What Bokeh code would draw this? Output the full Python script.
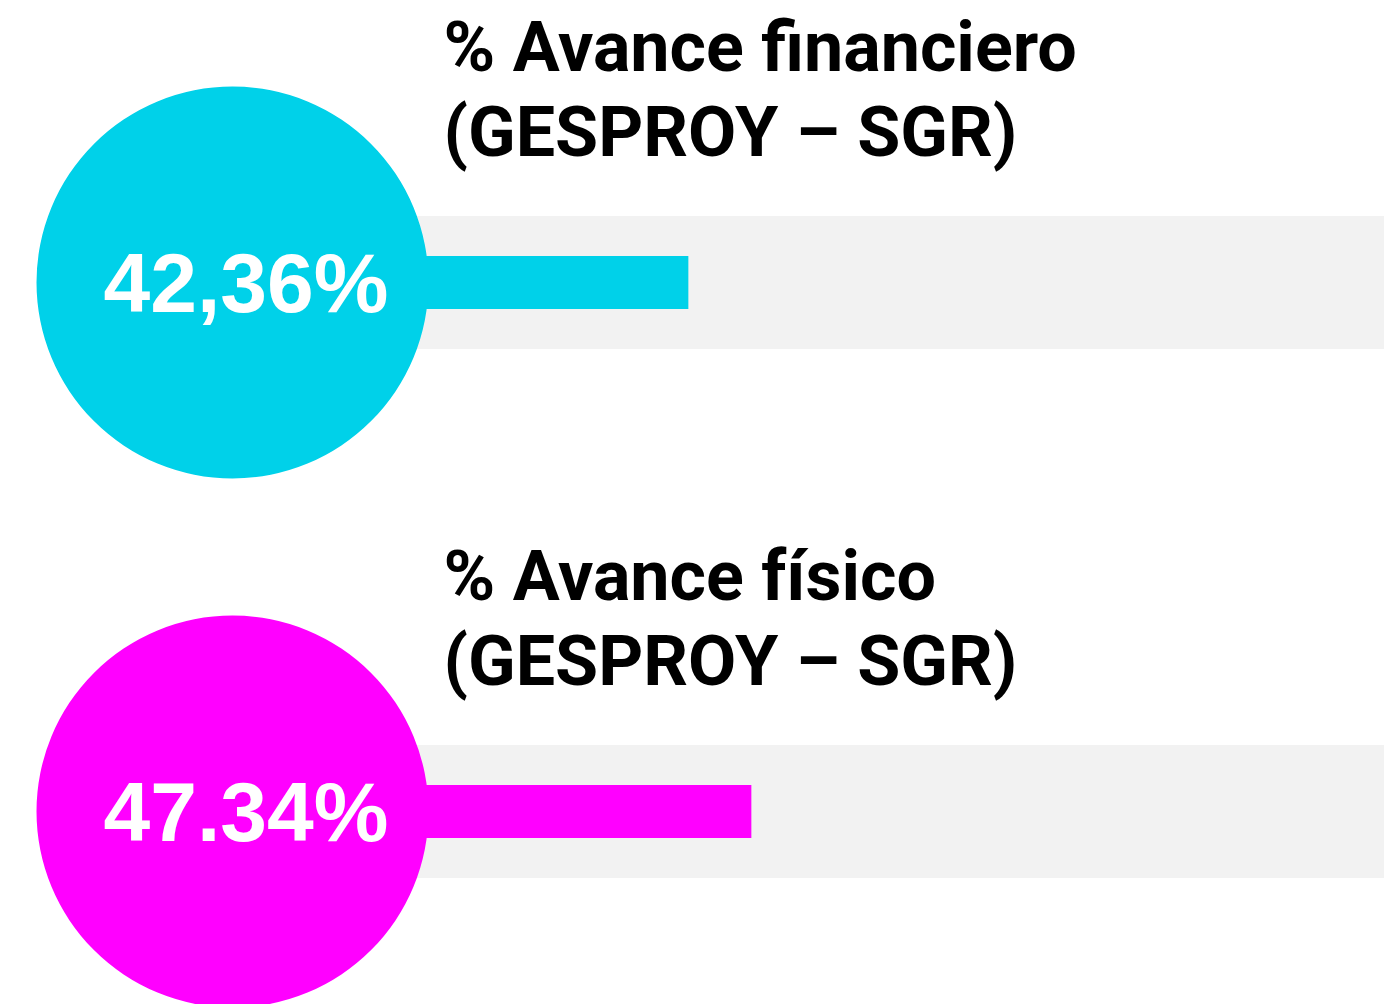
from bokeh.plotting import figure
from bokeh.models import Range1d, ColumnDataSource
from bokeh.embed import file_html
from bokeh.resources import INLINE
from bokeh.core.properties import value

# ---- data ----
titles_line1 = ["% Avance financiero", "% Avance físico"]
titles_line2 = ["(GESPROY – SGR)", "(GESPROY – SGR)"]
values = [42.36, 47.34]
value_labels = ["42,36%", "47.34%"]
colors = ["#00d1e9", "#ff00ff"]
max_value = 100

# ---- layout constants ----
PX_PER_PCT = 12.65
ORIGIN_PX = 152.0
W, H = 1384, 1004
x_start = (0 - ORIGIN_PX) / PX_PER_PCT
x_end = x_start + W / PX_PER_PCT

def px_to_x(px):
    return (px - ORIGIN_PX) / PX_PER_PCT

row_y = [282, 811]

src = ColumnDataSource(dict(
    y=row_y,
    val=values,
    maxv=[max_value] * len(values),
    color=colors,
    label=value_labels,
    t1=titles_line1,
    t2=titles_line2,
    t1y=[r - 236 for r in row_y],
    t2y=[r - 151 for r in row_y],
    ly=[r + 0 for r in row_y],
    cx=[px_to_x(232)] * len(values),
    lx=[px_to_x(245.5)] * len(values),
    tx=[px_to_x(443)] * len(values),
    zero=[0] * len(values),
))

p = figure(width=W, height=H, x_range=Range1d(x_start, x_end), y_range=Range1d(H, 0),
           output_backend="svg", toolbar_location=None, min_border=0,
           x_axis_type=None, y_axis_type=None)
p.grid.visible = False
p.outline_line_color = None
p.background_fill_color = "white"
p.border_fill_color = "white"

p.hbar(y="y", left="zero", right="maxv", height=133, color="#f2f2f2", line_color=None, source=src)
p.hbar(y="y", left="zero", right="val", height=53, fill_color="color", line_color=None, source=src)
p.scatter(x="cx", y="y", size=392, marker="circle", fill_color="color", line_color=None, source=src)

p.text(x="lx", y="ly", text="label", text_font=value("Liberation Sans"), text_font_style="bold",
       text_font_size="84px", text_color="white", text_align="center", text_baseline="alphabetic",
       source=src)
p.text(x="tx", y="t1y", text="t1", text_font=value("Roboto"), text_font_style="bold",
       text_font_size="70px", text_color="black", text_align="left", text_baseline="alphabetic",
       source=src)
p.text(x="tx", y="t2y", text="t2", text_font=value("Roboto"), text_font_style="bold",
       text_font_size="70px", text_color="black", text_align="left", text_baseline="alphabetic",
       source=src)

open("out.html", "w").write(file_html(p, INLINE))
